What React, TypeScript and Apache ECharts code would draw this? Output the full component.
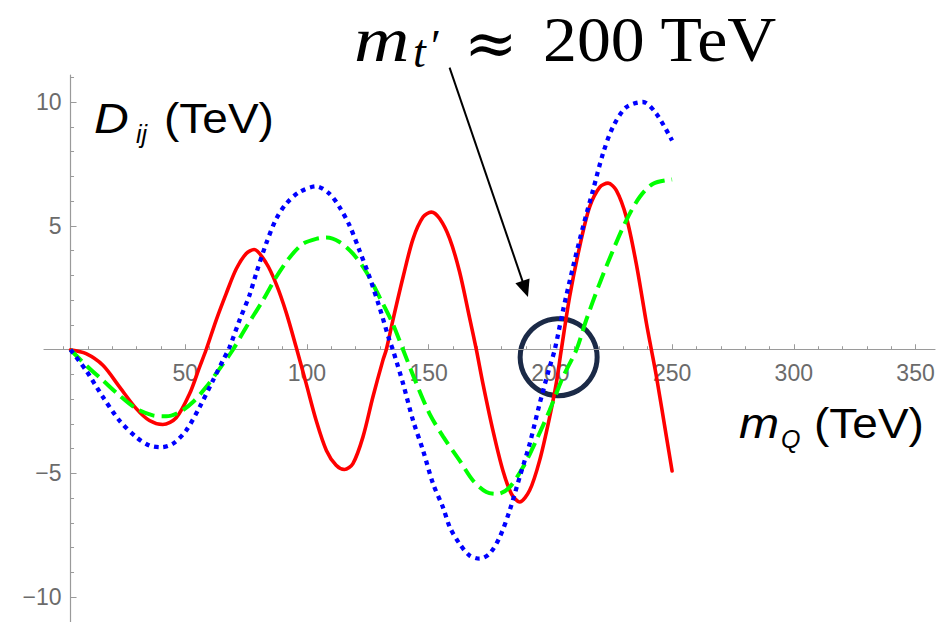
import { useEffect, useRef } from "react";
import * as echarts from "echarts";

// Axis extents (TeV)
const xRange = [-8, 358];
const yRange = [-11, 11.1];
// m_Q value where the vertical axis stands
const yAxisAtX = 2.9;

const xMinorTicks = [0, 10, 20, 30, 40, 50, 60, 70, 80, 90, 100, 110, 120, 130, 140, 150, 160, 170, 180, 190, 200, 210, 220, 230, 240, 250, 260, 270, 280, 290, 300, 310, 320, 330, 340, 350];
const xMajorTicks = [50, 100, 150, 200, 250, 300, 350];
const yMinorTicks = [-11, -10, -9, -8, -7, -6, -5, -4, -3, -2, -1, 1, 2, 3, 4, 5, 6, 7, 8, 9, 10, 11];
const yMajorTicks = [-10, -5, 5, 10];

// D_ij curves: [m_Q, D_ij]
const redCurve: [number, number][] = [
  [2.9, 0], [9.3, -0.16], [16.2, -0.63], [23, -1.5], [29.9, -2.38], [35.3, -2.86], [40.8, -3.02],
  [46.3, -2.75], [51.8, -1.78], [55.9, -0.7], [58.6, 0], [62.7, 1.19], [66.8, 2.26], [71, 3.27],
  [75, 3.88], [78.3, 4.05], [83.3, 3.5], [87.4, 2.65], [91.5, 1.5], [95.6, 0.1], [99.7, -1.37],
  [103.8, -2.86], [108, -4.07], [112, -4.67], [115.4, -4.84], [118.9, -4.6], [123, -3.53],
  [127.1, -1.91], [131.2, -0.43], [132.6, 0], [135.3, 1.19], [139.5, 2.94], [143.6, 4.48],
  [147.7, 5.36], [151.1, 5.56], [154.5, 5.3], [158.6, 4.5], [162.7, 3.15], [166.8, 1.3],
  [169.6, 0], [172.3, -1.37], [176.4, -3.26], [180.5, -4.88], [184, -5.82], [187.4, -6.15],
  [191.5, -5.68], [195.6, -4.47], [199.7, -2.72], [202.4, -1.37], [204.5, 0], [207.9, 2.13],
  [212, 4.15], [216.1, 5.76], [220.3, 6.57], [223.7, 6.73], [227.1, 6.44], [231.2, 5.36],
  [235.3, 3.47], [239.5, 1.05], [241.5, 0], [243.6, -1.1], [247.7, -3.53], [250, -4.9],
];

const blueCurve: [number, number][] = [
  [2.9, 0], [9.3, -0.84], [16.2, -1.91], [23, -2.86], [29.9, -3.53], [35.3, -3.87], [40, -3.94],
  [44.9, -3.8], [50.4, -3.26], [55.9, -2.32], [61.4, -1.24], [65.5, -0.43], [68.2, 0.1],
  [72.3, 1.19], [76.4, 2.2], [79.2, 3.1], [83.3, 4.3], [87.4, 5.29], [91.5, 5.9], [96.9, 6.37],
  [103.8, 6.6], [109.3, 6.3], [113.4, 5.76], [117.5, 5.02], [121.6, 4.01], [125.7, 2.94],
  [129.8, 1.72], [133.9, 0.38], [135.3, 0], [139.5, -1.37], [143.6, -2.86], [147.7, -4.07],
  [151.8, -5.41], [155.9, -6.37], [158.7, -7.17], [162.7, -7.84], [166.8, -8.31], [170.9, -8.44],
  [175, -8.24], [179.2, -7.57], [183.3, -6.49], [187.4, -5.14], [191.5, -3.8], [195.6, -2.18],
  [199.7, -0.7], [201.8, 0], [205.2, 1.59], [209.3, 3.34], [213.4, 4.96], [217.5, 6.44],
  [221.6, 7.92], [225.7, 9], [231.2, 9.8], [238, 10.01], [243.5, 9.54], [250, 8.45],
];

const greenCurve: [number, number][] = [
  [2.9, 0], [9.3, -0.63], [16.2, -1.24], [23, -1.85], [29.9, -2.38], [36.7, -2.65], [42.2, -2.69],
  [47.7, -2.52], [53.2, -2.11], [58.6, -1.51], [64.1, -0.77], [69.6, 0], [75.1, 0.92],
  [81.9, 1.99], [87.4, 2.94], [93, 3.74], [98.4, 4.28], [103.8, 4.48], [108, 4.53], [113.4, 4.35],
  [118.9, 3.88], [124.4, 3.14], [129.8, 2.13], [135.3, 1.04], [139.5, 0], [145, -1.37],
  [150.4, -2.59], [155.9, -3.5], [162.7, -4.47], [168.2, -5.28], [173.7, -5.75], [178.5, -5.82],
  [183.3, -5.55], [188.8, -4.74], [194.2, -3.66], [199.7, -2.45], [205.2, -1.1], [210.7, 0],
  [214.7, 1.19], [220.2, 2.67], [225.7, 4.01], [231.2, 5.23], [236.7, 6.17], [242.2, 6.71],
  [250, 6.88],
];

// Highlighted crossing region and arrow (data coordinates)
const markCenter: [number, number] = [203.4, -0.3];
const arrowFrom: [number, number] = [158.6, 11.4];
const arrowTo: [number, number] = [190.8, 2.13];

const PLOT = { left: 44, top: 75, width: 891, height: 547 };

const axisGray = "#9a9a9a";
const labelGray = "#6b6b6b";
const sans = '"Liberation Sans", Arial, sans-serif';
const serif = '"Liberation Serif", "Times New Roman", serif';

function txt(text: string, x: number, y: number, size: number, family: string, italic = false, extra: any = {}) {
  return {
    type: "text",
    x,
    y,
    silent: true,
    ...extra,
    style: {
      text,
      fontSize: size,
      fontFamily: family,
      fontStyle: italic ? "italic" : "normal",
      fill: "#000",
      align: "left",
      textAlign: "left",
      verticalAlign: "middle",
      textVerticalAlign: "middle",
    },
  };
}

export default function App() {
  const ref = useRef<HTMLDivElement>(null);

  useEffect(() => {
    document.body.style.margin = "0";
    if (!ref.current) return;
    const chart = echarts.init(ref.current, null, { renderer: "svg" });

    // Horizontal axis sits at D = 0; the vertical axis stands at m_Q = yAxisAtX,
    // which is the left edge of a second grid sharing the same vertical scale.
    const xAxisOffset = -PLOT.height * (0 - yRange[0]) / (yRange[1] - yRange[0]);
    const yAxisShift = PLOT.width * (yAxisAtX - xRange[0]) / (xRange[1] - xRange[0]);

    const commonX = {
      type: "value",
      gridIndex: 0,
      min: xRange[0],
      max: xRange[1],
      position: "bottom",
      offset: xAxisOffset,
      splitLine: { show: false },
    };
    const commonY = {
      type: "value",
      gridIndex: 1,
      min: yRange[0],
      max: yRange[1],
      position: "left",
      splitLine: { show: false },
    };

    chart.setOption({
      animation: false,
      backgroundColor: "#ffffff",
      grid: [
        { ...PLOT, outerBoundsMode: "none" },
        {
          left: PLOT.left + yAxisShift,
          top: PLOT.top,
          width: PLOT.width - yAxisShift,
          height: PLOT.height,
          outerBoundsMode: "none",
        },
      ],
      xAxis: [
        {
          ...commonX,
          axisLine: { show: true, onZero: false, lineStyle: { color: axisGray, width: 1.2 } },
          axisTick: { show: true, inside: true, length: 3.5, customValues: xMinorTicks, lineStyle: { color: axisGray, width: 1 } },
          axisLabel: {
            customValues: xMajorTicks,
            color: labelGray,
            fontSize: 23,
            fontFamily: sans,
            margin: 12,
          },
        },
        {
          ...commonX,
          axisLine: { show: false, onZero: false },
          axisTick: { show: true, inside: true, length: 5.5, customValues: xMajorTicks, lineStyle: { color: axisGray, width: 1 } },
          axisLabel: { show: false },
        },
        {
          type: "value",
          gridIndex: 1,
          min: yAxisAtX,
          max: xRange[1],
          show: false,
        },
      ],
      yAxis: [
        {
          // scale used by the curves
          type: "value",
          gridIndex: 0,
          min: yRange[0],
          max: yRange[1],
          show: false,
        },
        {
          ...commonY,
          axisLine: { show: true, onZero: false, lineStyle: { color: axisGray, width: 1.2 } },
          axisTick: { show: true, inside: true, length: 3.5, customValues: yMinorTicks, lineStyle: { color: axisGray, width: 1 } },
          axisLabel: {
            customValues: yMajorTicks,
            color: labelGray,
            fontSize: 23,
            fontFamily: sans,
            margin: 9,
            formatter: (v: number) => String(v).replace("-", "\u2212"),
          },
        },
        {
          ...commonY,
          axisLine: { show: false, onZero: false },
          axisTick: { show: true, inside: true, length: 6, customValues: yMajorTicks, lineStyle: { color: axisGray, width: 1 } },
          axisLabel: { show: false },
        },
      ],
      series: [
        {
          type: "line",
          xAxisIndex: 0,
          yAxisIndex: 0,
          data: redCurve,
          showSymbol: false,
          smooth: 0.3,
          lineStyle: { color: "#ff0000", width: 3.6, cap: "round", join: "round" },
        },
        {
          type: "line",
          xAxisIndex: 0,
          yAxisIndex: 0,
          data: greenCurve,
          showSymbol: false,
          smooth: 0.3,
          lineStyle: { color: "#00ff00", width: 4, type: [16, 7], cap: "butt" },
        },
        {
          type: "line",
          xAxisIndex: 0,
          yAxisIndex: 0,
          data: blueCurve,
          showSymbol: false,
          smooth: 0.3,
          lineStyle: { color: "#0000ff", width: 4.3, type: [4.5, 4.8], cap: "butt" },
        },
      ],
    });

    const px = (p: [number, number]) =>
      chart.convertToPixel({ xAxisIndex: 0, yAxisIndex: 0 }, p) as number[];

    const c = px(markCenter);
    const a0 = px(arrowFrom);
    const a1 = px(arrowTo);
    const dx = a1[0] - a0[0];
    const dy = a1[1] - a0[1];
    const len = Math.hypot(dx, dy);
    const ux = dx / len;
    const uy = dy / len;
    const headLen = 17;
    const headHalf = 7.5;
    const bx = a1[0] - ux * headLen;
    const by = a1[1] - uy * headLen;

    chart.setOption({
      graphic: [
        // vertical-axis caption D_ij (TeV)
        txt("D", 94, 118.5, 43, sans, true, { scaleX: 1.12 }),
        txt("ij", 136, 133.5, 25, sans, true),
        txt("(TeV)", 164, 118.5, 43, sans, false, { scaleX: 1.07 }),
        // horizontal-axis caption m_Q (TeV)
        txt("m", 739, 423.5, 43, sans, true, { scaleX: 1.12 }),
        txt("Q", 781, 438.5, 25, sans, true),
        txt("(TeV)", 814, 423.5, 43, sans, false, { scaleX: 1.07 }),
        // annotation m_t' ≈ 200 TeV
        txt("m", 354, 39.5, 64, serif, true, { scaleX: 1.2 }),
        txt("t", 413, 51, 46, serif, true),
        txt("\u2032", 431, 46, 46, serif),
        txt("\u2248", 464, 43, 64, '"DejaVu Serif", serif'),
        txt("200 TeV", 543, 39.5, 64, serif, false, { scaleX: 1.06 }),
        {
          type: "line",
          silent: true,
          shape: { x1: a0[0], y1: a0[1], x2: bx + ux * 2, y2: by + uy * 2 },
          style: { stroke: "#000", lineWidth: 2 },
        },
        {
          type: "polygon",
          silent: true,
          shape: {
            points: [
              [a1[0], a1[1]],
              [bx - uy * headHalf, by + ux * headHalf],
              [bx + uy * headHalf, by - ux * headHalf],
            ],
          },
          style: { fill: "#000" },
        },
        {
          type: "circle",
          silent: true,
          shape: { cx: c[0], cy: c[1], r: 38.5 },
          style: { fill: "none", stroke: "#1b2a47", lineWidth: 5 },
        },
      ],
    });

    return () => chart.dispose();
  }, []);

  return <div ref={ref} style={{ width: 951, height: 622 }} />;
}
